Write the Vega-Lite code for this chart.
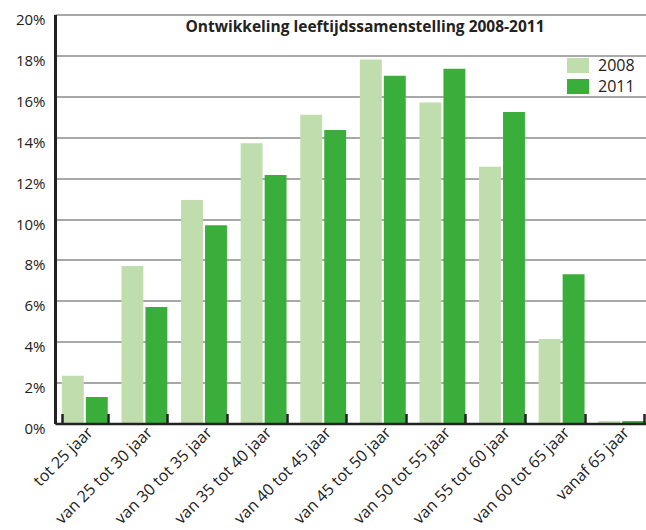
{
  "$schema": "https://vega.github.io/schema/vega-lite/v6.json",
  "width": 596,
  "height": 409,
  "autosize": {"type": "none"},
  "padding": {"left": 55, "top": 14.5, "right": -5, "bottom": 106.5},
  "background": "white",
  "config": {
    "font": "Open Sans",
    "view": {"stroke": null}
  },
  "title": {
    "text": "Ontwikkeling leeftijdssamenstelling 2008-2011",
    "font": "Open Sans",
    "fontSize": 15.5,
    "fontWeight": "bold",
    "color": "#222222",
    "anchor": "middle",
    "baseline": "alphabetic",
    "offset": 0,
    "dx": 12,
    "dy": 35
  },
  "data": {
    "values": [
      {"leeftijd": "tot 25 jaar", "jaar": "2008", "pct": 2.33},
      {"leeftijd": "tot 25 jaar", "jaar": "2011", "pct": 1.3},
      {"leeftijd": "van 25 tot 30 jaar", "jaar": "2008", "pct": 7.7},
      {"leeftijd": "van 25 tot 30 jaar", "jaar": "2011", "pct": 5.7},
      {"leeftijd": "van 30 tot 35 jaar", "jaar": "2008", "pct": 10.93},
      {"leeftijd": "van 30 tot 35 jaar", "jaar": "2011", "pct": 9.7},
      {"leeftijd": "van 35 tot 40 jaar", "jaar": "2008", "pct": 13.7},
      {"leeftijd": "van 35 tot 40 jaar", "jaar": "2011", "pct": 12.15},
      {"leeftijd": "van 40 tot 45 jaar", "jaar": "2008", "pct": 15.1},
      {"leeftijd": "van 40 tot 45 jaar", "jaar": "2011", "pct": 14.35},
      {"leeftijd": "van 45 tot 50 jaar", "jaar": "2008", "pct": 17.8},
      {"leeftijd": "van 45 tot 50 jaar", "jaar": "2011", "pct": 17.0},
      {"leeftijd": "van 50 tot 55 jaar", "jaar": "2008", "pct": 15.7},
      {"leeftijd": "van 50 tot 55 jaar", "jaar": "2011", "pct": 17.35},
      {"leeftijd": "van 55 tot 60 jaar", "jaar": "2008", "pct": 12.55},
      {"leeftijd": "van 55 tot 60 jaar", "jaar": "2011", "pct": 15.23},
      {"leeftijd": "van 60 tot 65 jaar", "jaar": "2008", "pct": 4.13},
      {"leeftijd": "van 60 tot 65 jaar", "jaar": "2011", "pct": 7.3},
      {"leeftijd": "vanaf 65 jaar", "jaar": "2008", "pct": 0.12},
      {"leeftijd": "vanaf 65 jaar", "jaar": "2011", "pct": 0.12}
    ]
  },
  "mark": {"type": "bar"},
  "encoding": {
    "x": {
      "field": "leeftijd",
      "type": "nominal",
      "sort": null,
      "scale": {"paddingInner": 0.23, "paddingOuter": 0.115},
      "axis": {
        "title": null,
        "zindex": 1,
        "grid": false,
        "labelAngle": -45,
        "labelAlign": "right",
        "labelBaseline": "middle",
        "labelFontSize": 16,
        "labelColor": "#222222",
        "labelPadding": 16,
        "labelOffset": 5,
        "tickBand": "extent",
        "tickSize": -10,
        "tickWidth": 2.5,
        "tickColor": "#222222",
        "domainColor": "#222222",
        "domainWidth": 2.5
      }
    },
    "y": {
      "field": "pct",
      "type": "quantitative",
      "scale": {"domain": [0, 20], "nice": false},
      "axis": {
        "title": null,
        "zindex": 0,
        "values": [0, 2, 4, 6, 8, 10, 12, 14, 16, 18, 20],
        "labelExpr": "datum.value + '%'",
        "ticks": false,
        "domainColor": "#222222",
        "domainWidth": 3,
        "gridColor": "#a8a8a8",
        "gridWidth": 2,
        "labelPadding": 10,
        "labelFontSize": 15,
        "labelColor": "#222222",
        "labelOffset": 5
      }
    },
    "xOffset": {
      "field": "jaar",
      "type": "nominal",
      "scale": {"paddingInner": 0.087, "paddingOuter": 0}
    },
    "color": {
      "field": "jaar",
      "type": "nominal",
      "scale": {"domain": ["2008", "2011"], "range": ["#c0ddad", "#3aae3a"]},
      "legend": {
        "title": null,
        "orient": "none",
        "legendX": 512,
        "legendY": 40,
        "padding": 0,
        "symbolType": "M-1,-0.68L1,-0.68L1,0.68L-1,0.68Z",
        "symbolSize": 484,
        "symbolStrokeWidth": 0,
        "symbolOpacity": 1,
        "labelFontSize": 16,
        "labelColor": "#222222",
        "labelOffset": 9,
        "rowPadding": 2
      }
    }
  }
}
